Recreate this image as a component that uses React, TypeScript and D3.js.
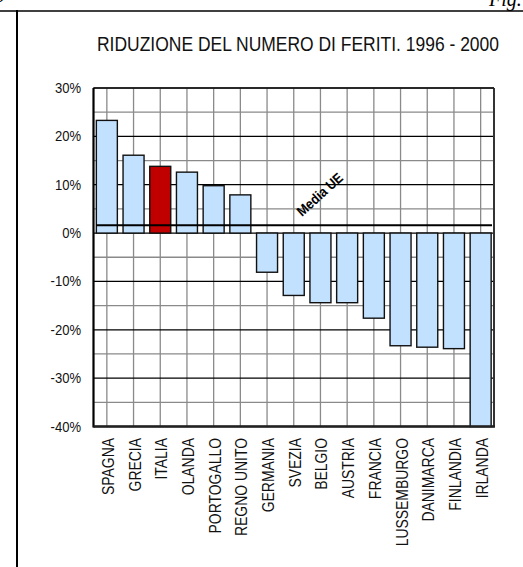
import React from "react";
import * as d3 from "d3";

const countries = ["SPAGNA","GRECIA","ITALIA","OLANDA","PORTOGALLO","REGNO UNITO","GERMANIA","SVEZIA","BELGIO","AUSTRIA","FRANCIA","LUSSEMBURGO","DANIMARCA","FINLANDIA","IRLANDA"];
const values = [23.3, 16.1, 13.8, 12.6, 9.8, 7.9, -8.1, -12.9, -14.4, -14.4, -17.6, -23.3, -23.6, -23.9, -40];
const highlight = ["ITALIA"];
const mediaUE = 1.6;
const yTicks = [30, 20, 10, 0, -10, -20, -30, -40];
const minorTicks = [25, 15, 5, -5, -15, -25, -35];
const title = "RIDUZIONE DEL NUMERO DI FERITI. 1996 - 2000";

const SANS = "Liberation Sans, Arial, sans-serif";

export default function App() {
  const W = 523, H = 567;
  const left = 93.5, right = 494, top = 88, bottom = 426.5;
  const xc = d3.scaleBand<string>().domain(countries).range([left, right]);
  const y = d3.scaleLinear().domain([-40, 30]).range([bottom, top]);
  const bw = 21;
  return (
    <svg width={W} height={H} style={{ position: "absolute", left: 0, top: 0, background: "#fff" }}>
      {/* page frame */}
      <line x1={0} x2={W} y1={11} y2={11} stroke="#000" strokeWidth={1.5} />
      <line x1={17} x2={17} y1={10} y2={H} stroke="#000" strokeWidth={2} />
      <text x={489} y={6} fontFamily="Liberation Serif, serif" fontStyle="italic" fontSize={20}>Fig. 4</text>
      <text x={-4} y={2} fontFamily="Liberation Serif, serif" fontStyle="italic" fontSize={18}>9</text>

      <text x={298} y={51} textAnchor="middle" fontFamily={SANS} fontSize={19.5} fill="#111"
        textLength={402} lengthAdjust="spacingAndGlyphs">{title}</text>

      {/* minor gridlines */}
      {minorTicks.map(t => (
        <line key={"m" + t} x1={left} x2={right} y1={y(t)} y2={y(t)} stroke="#8a8a8a" strokeWidth={1.3} />
      ))}
      {countries.map(c => (
        <line key={"v" + c} x1={xc(c)! + xc.bandwidth() / 2} x2={xc(c)! + xc.bandwidth() / 2} y1={top} y2={bottom} stroke="#8a8a8a" strokeWidth={1.3} />
      ))}
      {yTicks.map(t => (
        <line key={"M" + t} x1={left} x2={right} y1={y(t)} y2={y(t)} stroke="#000" strokeWidth={1.3} />
      ))}
      {/* plot border */}
      <line x1={right} x2={right} y1={top} y2={bottom} stroke="#333" strokeWidth={2} />
      <line x1={left} x2={right} y1={top} y2={top} stroke="#222" strokeWidth={1.5} />

      {/* bars */}
      {countries.map((c, i) => {
        const v = values[i];
        const cx = xc(c)! + xc.bandwidth() / 2;
        return (
          <rect key={c} x={cx - bw / 2} width={bw}
            y={y(Math.max(0, v))} height={Math.abs(y(v) - y(0))}
            fill={highlight.includes(c) ? "#c00000" : "#c2e1ff"} stroke="#111" strokeWidth={1.4} />
        );
      })}

      {/* Media UE line */}
      <line x1={96} x2={492} y1={y(mediaUE)} y2={y(mediaUE)} stroke="#000" strokeWidth={2} />
      <text transform={`translate(323,198) rotate(-42) scale(0.9,1)`} textAnchor="middle" fontFamily={SANS} fontWeight="bold" fontSize={14}>Media UE</text>

      {/* axes */}
      <line x1={left} x2={left} y1={top} y2={bottom + 1} stroke="#000" strokeWidth={2.2} />
      <line x1={left} x2={right + 1} y1={bottom} y2={bottom} stroke="#222" strokeWidth={2.5} />

      {yTicks.map(t => (
        <text key={"t" + t} transform={`translate(81,${y(t) + 5}) scale(0.9,1)`} textAnchor="end" fontFamily={SANS} fontSize={14.5} fill="#111">{t}%</text>
      ))}

      {countries.map(c => {
        const cx = xc(c)! + xc.bandwidth() / 2;
        return (
          <text key={"l" + c} transform={`translate(${cx + 7},438) rotate(-90) scale(0.82,1)`} textAnchor="end" fontFamily={SANS} fontSize={17} fill="#111">{c}</text>
        );
      })}
    </svg>
  );
}
